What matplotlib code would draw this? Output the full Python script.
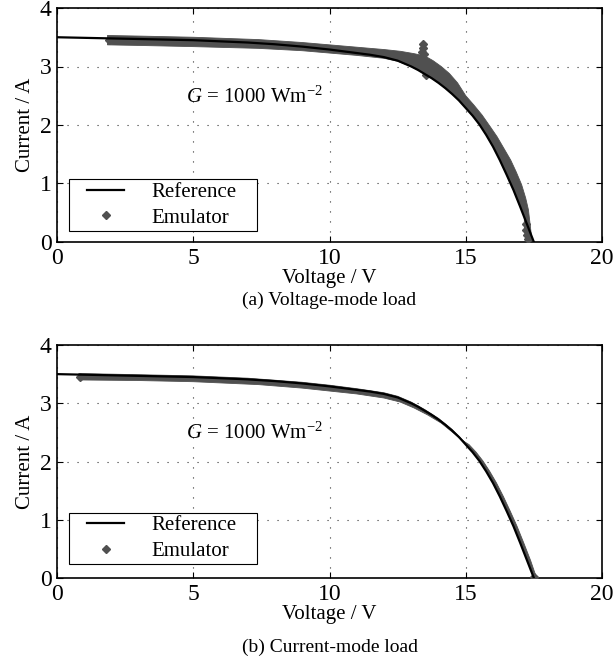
import matplotlib
matplotlib.use('Agg')
import matplotlib.pyplot as plt
from matplotlib.patches import Rectangle

plt.rcParams['font.family'] = ['Liberation Serif', 'DejaVu Serif']
plt.rcParams['mathtext.fontset'] = 'custom'
plt.rcParams['mathtext.rm'] = 'Liberation Serif'
plt.rcParams['mathtext.it'] = 'Liberation Serif:italic'

# reference I-V curve
ref_v = [0, 1, 2, 3, 4, 5, 6, 7, 8, 9, 10, 10.5, 11, 11.5, 12, 12.5, 13, 13.25, 13.5, 13.75,
         14, 14.25, 14.5, 14.75, 15, 15.25, 15.5, 15.75, 16, 16.25, 16.5, 16.75, 17, 17.25, 17.5]
ref_i = [3.50, 3.49, 3.48, 3.47, 3.46, 3.45, 3.43, 3.41, 3.38, 3.34, 3.29, 3.26, 3.23, 3.20,
         3.16, 3.10, 3.00, 2.94, 2.87, 2.80, 2.72, 2.63, 2.53, 2.42, 2.29, 2.16, 2.01, 1.83,
         1.63, 1.40, 1.15, 0.89, 0.60, 0.30, 0.0]

# emulator band, voltage-mode load: outline (upper edge left->right, lower edge right->left)
emu_a_v = [1.85, 3, 5, 7.4, 9, 10, 11, 12, 12.6, 13.1, 13.5, 13.8, 14.1, 14.4, 14.7, 15.0,
           15.3, 15.6, 15.9, 16.15, 16.4, 16.65, 16.85, 17.05, 17.2, 17.3, 17.35, 17.4, 17.42,
           17.2, 17.15, 17.15, 17.0, 16.75, 16.5, 16.25, 16.0, 15.75, 15.5, 15.25, 15.0, 14.75,
           14.5, 14.25, 14.0, 13.75, 13.5, 13.25, 13.0, 12.5, 12.0, 11.0, 10.0, 9.0, 7.4, 5, 3, 1.85]
emu_a_i = [3.53, 3.52, 3.50, 3.46, 3.41, 3.37, 3.33, 3.29, 3.26, 3.22, 3.18, 3.10, 3.00, 2.88,
           2.72, 2.50, 2.34, 2.17, 1.97, 1.80, 1.60, 1.40, 1.20, 0.98, 0.75, 0.55, 0.35, 0.15,
           0.05, 0.03, 0.25, 0.45, 0.60, 0.89, 1.15, 1.40, 1.63, 1.83, 2.01, 2.16, 2.29, 2.42,
           2.53, 2.63, 2.72, 2.80, 2.87, 2.94, 3.00, 3.09, 3.14, 3.19, 3.23, 3.27, 3.31, 3.34,
           3.36, 3.37]
# isolated emulator points (voltage-mode)
out_a_v = [1.9, 13.44, 13.42, 13.40, 13.47, 13.55, 17.24, 17.22, 17.28, 17.2]
out_a_i = [3.45, 3.38, 3.31, 3.25, 3.22, 2.86, 0.12, 0.20, 0.05, 0.30]

# emulator band, current-mode load
emu_b_v = [0.8, 3, 5, 7, 9, 10, 11, 12, 12.5, 13, 13.5, 14, 14.5, 15, 15.5, 16, 16.5, 17, 17.5,
           17.6, 17.38, 17.13, 16.88, 16.63, 16.38, 16.13, 15.88, 15.63, 15.38, 15.12, 14.85,
           14.6, 14.1, 13.6, 13.1, 12.6, 12, 11, 10, 9, 7.4, 5, 3, 0.8]
emu_b_i = [3.51, 3.49, 3.47, 3.43, 3.36, 3.31, 3.25, 3.18, 3.12, 3.02, 2.89, 2.74, 2.55, 2.31,
           2.03, 1.65, 1.17, 0.62, 0.02, 0.0, 0.30, 0.60, 0.89, 1.15, 1.40, 1.63, 1.83, 2.01,
           2.16, 2.29, 2.37, 2.47, 2.66, 2.80, 2.92, 3.02, 3.09, 3.16, 3.21, 3.26, 3.32, 3.37,
           3.39, 3.40]
out_b_v = [0.85, 17.52]
out_b_i = [3.45, 0.01]

gray = '#505050'
captions = ['(a) Voltage-mode load', '(b) Current-mode load']
caption_y = [1 - 300/671, 1 - 647/671]
legend_box = [(0.0215, 0.047, 0.3455, 0.222), (0.0215, 0.060, 0.3455, 0.220)]

fig = plt.figure(figsize=(6.13, 6.71), dpi=100)
ax_a = fig.add_axes([57/613, 1-242/671, 545/613, 234/671])
ax_b = fig.add_axes([57/613, 1-578/671, 545/613, 233/671])

panels = [(ax_a, emu_a_v, emu_a_i, out_a_v, out_a_i),
          (ax_b, emu_b_v, emu_b_i, out_b_v, out_b_i)]

for k, (ax, ev, ei, ov, oi) in enumerate(panels):
    ax.fill(ev, ei, color=gray, lw=0.6, ec=gray, zorder=2)
    ax.plot(ov, oi, 'D', ls='none', color=gray, ms=4.5, zorder=3, label='Emulator')
    ax.plot(ref_v, ref_i, color='k', lw=1.6, zorder=4, label='Reference')
    ax.set_xlim(0, 20)
    ax.set_ylim(0, 4)
    ax.set_xticks([0, 5, 10, 15, 20])
    ax.set_yticks([0, 1, 2, 3, 4])
    ax.grid(True, color='#333333', lw=0.8, ls=(0, (1, 8)))
    ax.tick_params(direction='in', top=True, right=True, length=4, width=0.8,
                   labelsize=17, pad=4)
    for s in ax.spines.values():
        s.set_linewidth(1.2)
    ax.set_xlabel('Voltage / V', fontsize=15, labelpad=0)
    ax.set_ylabel('Current / A', fontsize=15, labelpad=3)
    ax.text(4.75, 2.48, r'$G$ = 1000 Wm$^{\mathregular{-2}}$', fontsize=15, va='center')

    # legend: MATLAB-like box drawn separately, entries placed inside
    bx, by, bw, bh = legend_box[k]
    ax.add_patch(Rectangle((bx, by), bw, bh, transform=ax.transAxes, fc='white',
                           ec='k', lw=0.8, zorder=5))
    h, l = ax.get_legend_handles_labels()
    leg = ax.legend(h[::-1], l[::-1], loc='center left',
                    bbox_to_anchor=(0.055, by + bh / 2), borderaxespad=0, borderpad=0,
                    frameon=False, fontsize=15, handlelength=1.78, handletextpad=1.3,
                    labelspacing=0.3, numpoints=1)
    leg.set_zorder(6)
    fig.text(ax.get_position().x0 + ax.get_position().width / 2, caption_y[k],
             captions[k], ha='center', va='center', fontsize=14)

fig.savefig('out.png', dpi=100)
